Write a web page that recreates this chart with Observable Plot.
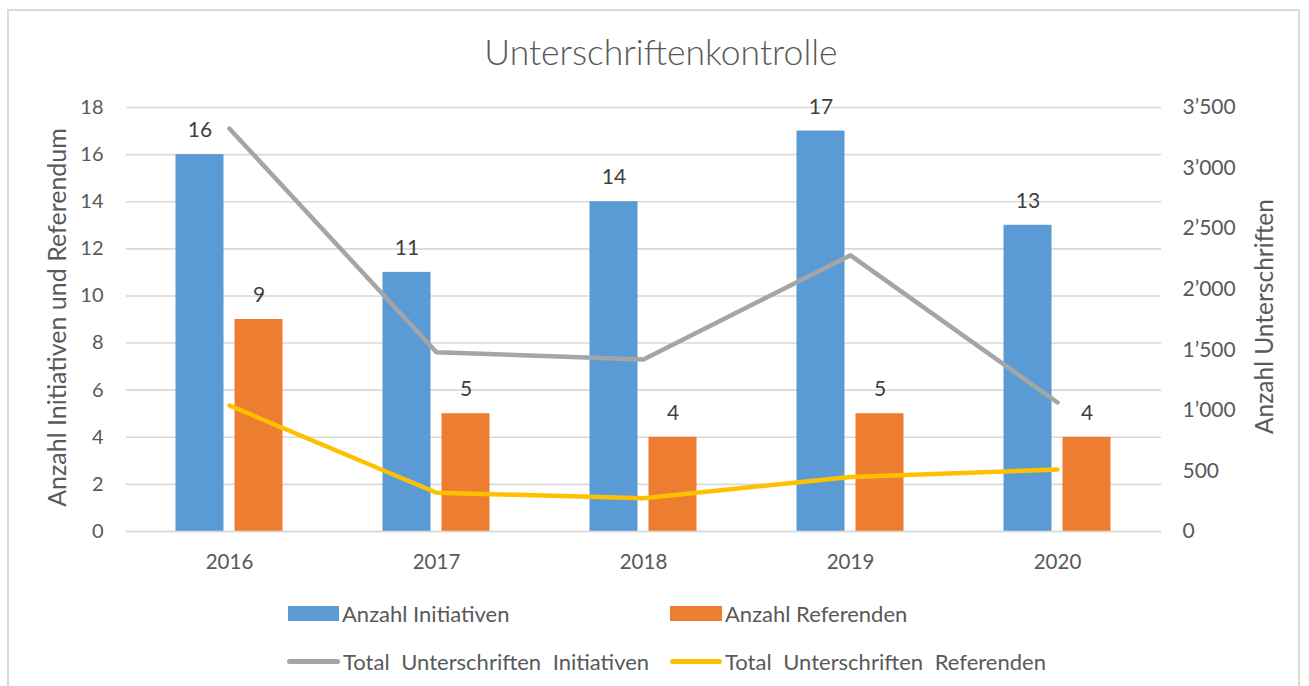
<!DOCTYPE html>
<html>
<head>
<meta charset="utf-8">
<script src="https://cdn.jsdelivr.net/npm/d3@7"></script>
<script src="https://cdn.jsdelivr.net/npm/@observablehq/plot@0.6"></script>
<style>
  html, body { margin: 0; padding: 0; background: #fff; }
  body { width: 1309px; height: 686px; position: relative; overflow: hidden; font-family: Lato, "Open Sans", sans-serif; color: #595959; }
  #frame { position: absolute; left: 7px; top: 9px; width: 1293px; height: 690px; border: 2px solid #D9D9D9; box-sizing: border-box; }
  #title { position: absolute; left: 0; width: 1322px; top: 30px; text-align: center; font-size: 35.5px; font-weight: 300; color: #595959; line-height: 44px; }
  #chart { position: absolute; left: 0; top: 0; }
  .leg { position: absolute; display: flex; align-items: center; font-size: 22px; color: #595959; height: 26px; }
  .sw { display: inline-block; margin-right: 3px; }
</style>
</head>
<body>
<div id="frame"></div>
<div id="chart"></div>
<div id="title">Unterschriftenkontrolle</div>
<div class="leg" style="left:288px; top:600px;"><span class="sw" style="width:51px;height:15px;background:#5B9BD5"></span>Anzahl Initiativen</div>
<div class="leg" style="left:670px; top:600px;"><span class="sw" style="width:52px;height:15px;background:#ED7D31"></span>Anzahl Referenden</div>
<div class="leg" style="left:287px; top:648px; word-spacing:6px;"><span class="sw" style="width:53px;height:5px;border-radius:3px;background:#A5A5A5"></span>Total Unterschriften Initiativen</div>
<div class="leg" style="left:670px; top:648px; word-spacing:6px;"><span class="sw" style="width:52px;height:5px;border-radius:3px;background:#FFC000"></span>Total Unterschriften Referenden</div>
<script>
const years = ["2016", "2017", "2018", "2019", "2020"];
const anzahlInitiativen = [16, 11, 14, 17, 13];
const anzahlReferenden = [9, 5, 4, 5, 4];
const totalUnterschriftenInitiativen = [3325, 1480, 1420, 2280, 1065];
const totalUnterschriftenReferenden = [1040, 320, 275, 450, 512];
const leftTicks = [0, 2, 4, 6, 8, 10, 12, 14, 16, 18];
const rightTicks = [0, 500, 1000, 1500, 2000, 2500, 3000, 3500];
const leftLabel = ["Anzahl Initiativen und Referendum"];
const rightLabel = ["Anzahl Unterschriften"];

const leftMax = 18, rightMax = 3500;
const k = leftMax / rightMax;
const fmt = v => d3.format(",")(v).replace(/,/g, "\u2019");

const rows = years.map((y, i) => ({
  year: y,
  ini: anzahlInitiativen[i],
  ref: anzahlReferenden[i],
  tIni: totalUnterschriftenInitiativen[i] * k,
  tRef: totalUnterschriftenReferenden[i] * k
}));

const blue = "#5B9BD5", orange = "#ED7D31", gray = "#A5A5A5", yellow = "#FFC000";
const textColor = "#595959";

const plot = Plot.plot({
  width: 1309,
  height: 590,
  marginLeft: 126,
  marginRight: 148,
  marginTop: 107,
  marginBottom: 59,
  style: { fontFamily: "Lato, 'Open Sans', sans-serif", fontSize: "20px", color: textColor, background: "transparent" },
  x: { type: "band", domain: years, paddingInner: 0.768, paddingOuter: 0.384, align: 0.5, label: null },
  y: { domain: [0, leftMax], label: null },
  marks: [
    Plot.gridY(leftTicks, { stroke: "#D9D9D9", strokeOpacity: 1, strokeWidth: 1.6 }),
    Plot.barY(rows, { x: "year", y: "ini", fill: blue, dx: -29.5 }),
    Plot.barY(rows, { x: "year", y: "ref", fill: orange, dx: 29.5 }),
    Plot.text(rows, { x: "year", y: "ini", text: d => String(d.ini), dx: -29.5, dy: -24, fontSize: 21, fill: "#404040" }),
    Plot.text(rows, { x: "year", y: "ref", text: d => String(d.ref), dx: 29.5, dy: -24, fontSize: 21, fill: "#404040" }),
    Plot.line(rows, { x: "year", y: "tIni", stroke: gray, strokeWidth: 4.5, strokeLinecap: "round", strokeLinejoin: "round" }),
    Plot.line(rows, { x: "year", y: "tRef", stroke: yellow, strokeWidth: 4.5, strokeLinecap: "round", strokeLinejoin: "round" }),
    Plot.axisY(leftTicks, {
      anchor: "left", tickSize: 0, tickPadding: 23, fontSize: 20, fill: textColor, label: null
    }),
    Plot.axisY(rightTicks, {
      anchor: "right", y: d => d * k, text: d => fmt(d), textAnchor: "start",
      tickSize: 0, tickPadding: 21, fontSize: 21, fill: textColor, label: null
    }),
    Plot.text(leftLabel, { text: d => d, frameAnchor: "left", textAnchor: "middle", lineAnchor: "middle", rotate: -90, dx: -69, dy: -2, fontSize: 25, fill: textColor }),
    Plot.text(rightLabel, { text: d => d, frameAnchor: "right", textAnchor: "middle", lineAnchor: "middle", rotate: -90, dx: 104, dy: -3, fontSize: 24.5, fill: textColor }),
    Plot.axisX({ tickSize: 0, tickPadding: 23, fontSize: 20.5, fill: textColor, label: null }),
    Plot.ruleY([0], { stroke: "#D9D9D9", strokeWidth: 1.6 })
  ]
});
document.getElementById("chart").appendChild(plot);
</script>
</body>
</html>
